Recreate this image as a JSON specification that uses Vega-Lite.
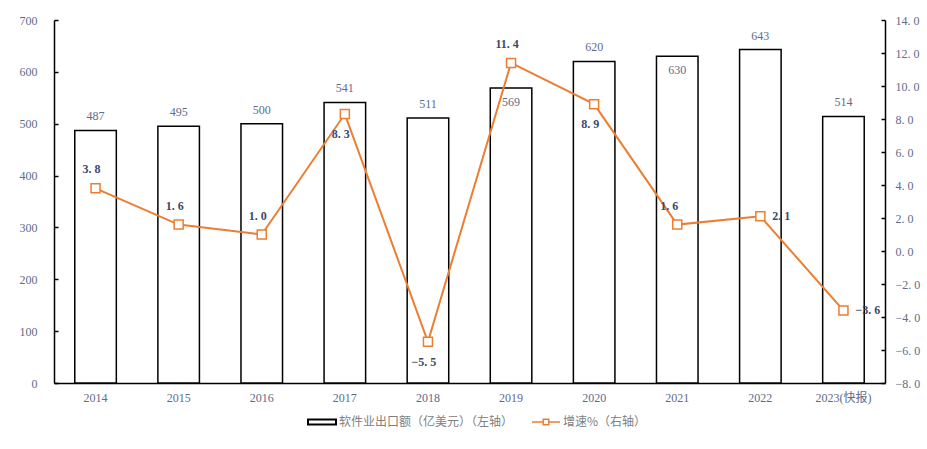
{
  "$schema": "https://vega.github.io/schema/vega-lite/v6.json",
  "width": 831,
  "height": 363,
  "autosize": {"type": "none"},
  "padding": {"left": 54, "top": 20, "right": 42, "bottom": 66},
  "background": "white",
  "config": {"view": {"stroke": null}, "font": "Liberation Serif"},
  "data": {
    "values": [
      {"year": "2014", "export": 487, "growth": 3.8},
      {"year": "2015", "export": 495, "growth": 1.6},
      {"year": "2016", "export": 500, "growth": 1.0},
      {"year": "2017", "export": 541, "growth": 8.3},
      {"year": "2018", "export": 511, "growth": -5.5},
      {"year": "2019", "export": 569, "growth": 11.4},
      {"year": "2020", "export": 620, "growth": 8.9},
      {"year": "2021", "export": 630, "growth": 1.6},
      {"year": "2022", "export": 643, "growth": 2.1},
      {"year": "2023(快报)", "export": 514, "growth": -3.6}
    ]
  },
  "encoding": {
    "x": {
      "field": "year",
      "type": "ordinal",
      "sort": null,
      "scale": {"paddingInner": 0.5, "paddingOuter": 0.25},
      "axis": {
        "title": null,
        "labelAngle": 0,
        "ticks": false,
        "domainColor": "black",
        "domainWidth": 1.5,
        "labelPadding": 9,
        "labelFont": "Liberation Serif, Noto Sans CJK SC",
        "labelFontSize": 12,
        "labelColor": "#5E6B8C"
      }
    }
  },
  "layer": [
    {
      "encoding": {
        "y": {
          "field": "export",
          "type": "quantitative",
          "scale": {"domain": [0, 700], "nice": false},
          "axis": {
            "title": null,
            "orient": "left",
            "values": [0, 100, 200, 300, 400, 500, 600, 700],
            "grid": false,
            "domainColor": "black",
            "domainWidth": 1.5,
            "tickColor": "black",
            "tickWidth": 1.5,
            "tickSize": -4,
            "labelPadding": 21,
            "labelFont": "Liberation Serif",
            "labelFontSize": 12,
            "labelColor": "#5E6B8C"
          }
        }
      },
      "layer": [
        {
          "mark": {"type": "bar", "fill": "white", "strokeWidth": 1.5},
          "encoding": {
            "stroke": {
              "datum": "软件业出口额（亿美元）（左轴）",
              "scale": {"range": ["black"]},
              "legend": {
                "title": null,
                "orient": "none",
                "legendX": 253,
                "legendY": 387,
                "direction": "horizontal",
                "padding": 0,
                "labelOffset": 2,
                "labelLimit": 0,
                "labelFont": "Noto Sans CJK SC",
                "labelFontSize": 12,
                "labelColor": "#808080",
                "symbolSize": 784,
                "symbolType": "M-1,-0.18H1V0.18H-1Z",
                "symbolFillColor": "white",
                "symbolStrokeWidth": 2,
                "symbolStrokeColor": "black"
              }
            }
          }
        },
        {
          "transform": [{"filter": "datum.year != '2019' && datum.year != '2021'"}],
          "mark": {"type": "text", "dy": -14, "fontSize": 12, "color": "#5E6B8C", "baseline": "middle"},
          "encoding": {"text": {"field": "export", "type": "quantitative"}}
        },
        {
          "transform": [{"filter": "datum.year == '2019' || datum.year == '2021'"}],
          "mark": {"type": "text", "dy": 14, "fontSize": 12, "color": "#5E6B8C", "baseline": "middle"},
          "encoding": {"text": {"field": "export", "type": "quantitative"}}
        }
      ]
    },
    {
      "transform": [{"calculate": "replace(format(datum.growth, '.1f'), '.', '. ')", "as": "lbl"}],
      "encoding": {
        "y": {
          "field": "growth",
          "type": "quantitative",
          "scale": {"domain": [-8, 14], "nice": false},
          "axis": {
            "title": null,
            "orient": "right",
            "values": [-8, -6, -4, -2, 0, 2, 4, 6, 8, 10, 12, 14],
            "labelExpr": "replace(format(datum.value, '.1f'), '.', '. ')",
            "grid": false,
            "domainColor": "black",
            "domainWidth": 1.5,
            "tickColor": "black",
            "tickWidth": 1.5,
            "tickSize": -4,
            "labelPadding": 14,
            "labelFont": "Liberation Serif",
            "labelFontSize": 12,
            "labelColor": "#5E6B8C"
          }
        }
      },
      "layer": [
        {
          "mark": {
            "type": "line",
            "strokeWidth": 2,
            "point": {"shape": "square", "filled": false, "fill": "white", "size": 81, "strokeWidth": 1.5}
          },
          "encoding": {
            "color": {
              "datum": "增速%（右轴）",
              "scale": {"range": ["#ED7D31"]},
              "legend": {
                "title": null,
                "orient": "none",
                "legendX": 477,
                "legendY": 387,
                "direction": "horizontal",
                "padding": 0,
                "labelOffset": 2,
                "labelLimit": 0,
                "labelFont": "Noto Sans CJK SC",
                "labelFontSize": 12,
                "labelColor": "#808080",
                "symbolSize": 784,
                "symbolType": "M-1,0H-0.2M0.2,0H1M-0.2,-0.2H0.2V0.2H-0.2Z",
                "symbolFillColor": "white",
                "symbolStrokeWidth": 1.5,
                "symbolStrokeColor": "#ED7D31"
              }
            }
          }
        },
        {
          "transform": [{"filter": "indexof(['2014','2015','2016','2019'], datum.year) >= 0"}],
          "mark": {"type": "text", "dy": -19, "dx": -4, "fontSize": 12, "fontWeight": "bold", "color": "#3B4A6B", "baseline": "middle"},
          "encoding": {"text": {"field": "lbl"}}
        },
        {
          "transform": [{"filter": "datum.year == '2021'"}],
          "mark": {"type": "text", "dy": -19, "dx": -8, "fontSize": 12, "fontWeight": "bold", "color": "#3B4A6B", "baseline": "middle"},
          "encoding": {"text": {"field": "lbl"}}
        },
        {
          "transform": [{"filter": "indexof(['2017','2018','2020'], datum.year) >= 0"}],
          "mark": {"type": "text", "dy": 20, "dx": -4, "fontSize": 12, "fontWeight": "bold", "color": "#3B4A6B", "baseline": "middle"},
          "encoding": {"text": {"field": "lbl"}}
        },
        {
          "transform": [{"filter": "datum.year == '2022' || datum.year == '2023(快报)'"}],
          "mark": {"type": "text", "dx": 12, "align": "left", "fontSize": 12, "fontWeight": "bold", "color": "#3B4A6B", "baseline": "middle"},
          "encoding": {"text": {"field": "lbl"}}
        }
      ]
    }
  ],
  "resolve": {"scale": {"y": "independent"}}
}
